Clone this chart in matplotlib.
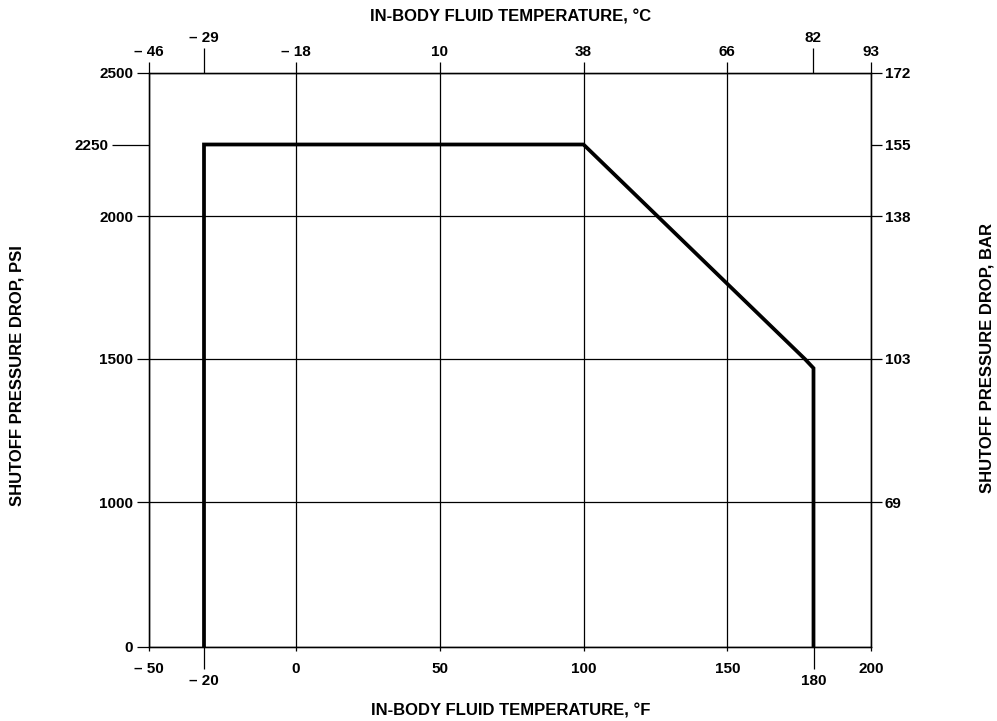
import numpy as np
import matplotlib
matplotlib.use('Agg')
import matplotlib.pyplot as plt

plt.rcParams['font.family'] = ['Liberation Sans', 'DejaVu Sans']
plt.rcParams['font.weight'] = 'bold'

# boundary curve (deg F, psi)
temp_f = [-20, -20, 100, 177, 180, 180]
psi = [0, 2250, 2250, 1500, 1468, 0]

# bottom axis (deg F)
f_ticks = [-50, 0, 50, 100, 150, 200]
f_labels = ['\u2013 50', '0', '50', '100', '150', '200']
f_ticks_low = [-20, 180]
f_labels_low = ['\u2013 20', '180']

# top axis (deg C) placed at deg F positions
c_ticks = [-50, 0, 50, 100, 150, 200]
c_labels = ['\u2013 46', '\u2013 18', '10', '38', '66', '93']
c_ticks_high = [-20, 180]
c_labels_high = ['\u2013 29', '82']

# left axis (psi)
psi_ticks = [0, 1000, 1500, 2000, 2500]
psi_labels = ['0', '1000', '1500', '2000', '2500']
psi_tick_long = [2250]
psi_label_long = ['2250']

# right axis (bar)
bar_ticks = [1000, 1500, 2000, 2250, 2500]
bar_labels = ['69', '103', '138', '155', '172']

# the chart's axes are not linear: -50..0 F and 0..1000 psi are squeezed
x_knots = [-50, -20, 0, 200]
x_pos = [0, 55, 147, 722]
y_knots = [0, 1000, 2500]
y_pos = [0, 145, 574]


def xf(v):
    return np.interp(v, x_knots, x_pos)


def xi(v):
    return np.interp(v, x_pos, x_knots)


def yf(v):
    return np.interp(v, y_knots, y_pos)


def yi(v):
    return np.interp(v, y_pos, y_knots)


tick_fs = 11
title_fs = 12

fig = plt.figure(figsize=(9.97, 7.21), dpi=100)
ax = fig.add_axes([149 / 997, 74 / 721, 722 / 997, 574 / 721])

ax.set_xscale('function', functions=(xf, xi))
ax.set_yscale('function', functions=(yf, yi))
ax.set_xlim(-50, 200)
ax.set_ylim(0, 2500)

ax.plot(temp_f, psi, color='black', linewidth=2.7, solid_joinstyle='miter')

for s in ax.spines.values():
    s.set_linewidth(1.0)

ax.set_xticks(f_ticks, labels=f_labels)
ax.set_xticks(f_ticks_low, labels=f_labels_low, minor=True)
ax.set_yticks(psi_ticks, labels=psi_labels)
ax.set_yticks(psi_tick_long, labels=psi_label_long, minor=True)

ax.grid(which='major', color='black', linewidth=0.9)
ax.tick_params(axis='x', which='major', direction='out', length=3, pad=8, labelsize=tick_fs, width=0.9)
ax.tick_params(axis='x', which='minor', direction='out', length=16, pad=3.5, labelsize=tick_fs, width=0.9)
ax.tick_params(axis='y', which='major', direction='out', length=8.5, pad=3, labelsize=tick_fs, width=0.9)
ax.tick_params(axis='y', which='minor', direction='out', length=26.5, pad=3, labelsize=tick_fs, width=0.9)

axt = ax.twiny()
axt.set_xscale('function', functions=(xf, xi))
axt.set_xlim(-50, 200)
axt.set_xticks(c_ticks, labels=c_labels)
axt.set_xticks(c_ticks_high, labels=c_labels_high, minor=True)
axt.tick_params(axis='x', which='major', direction='out', length=8, pad=2, labelsize=tick_fs, width=0.9)
axt.tick_params(axis='x', which='minor', direction='out', length=18, pad=2, labelsize=tick_fs, width=0.9)

axr = ax.twinx()
axr.set_yscale('function', functions=(yf, yi))
axr.set_ylim(0, 2500)
axr.set_yticks(bar_ticks, labels=bar_labels)
axr.yaxis.set_minor_locator(matplotlib.ticker.NullLocator())
axr.tick_params(axis='y', which='major', direction='out', length=8, pad=2, labelsize=tick_fs, width=0.9)

fig.text(511 / 997, 1 - 711 / 721, 'IN-BODY FLUID TEMPERATURE, \u00b0F', ha='center', va='center',
         fontsize=title_fs, fontweight='bold')
fig.text(511 / 997, 1 - 17 / 721, 'IN-BODY FLUID TEMPERATURE, \u00b0C', ha='center', va='center',
         fontsize=title_fs, fontweight='bold')
fig.text(17 / 997, 1 - 376 / 721, 'SHUTOFF PRESSURE DROP, PSI', ha='center', va='center',
         rotation=90, fontsize=title_fs, fontweight='bold')
fig.text(987 / 997, 1 - 358 / 721, 'SHUTOFF PRESSURE DROP, BAR', ha='center', va='center',
         rotation=90, fontsize=title_fs, fontweight='bold')

fig.savefig('out.png', dpi=100)
